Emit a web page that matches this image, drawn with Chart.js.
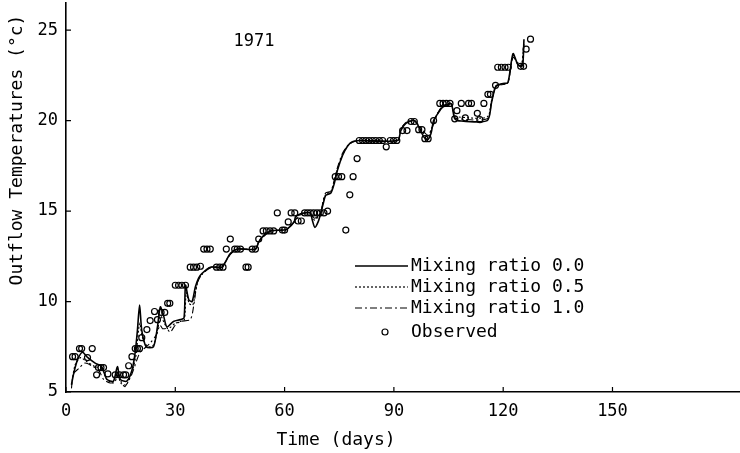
<!DOCTYPE html>
<html>
<head>
<meta charset="utf-8">
<script src="https://cdn.jsdelivr.net/npm/chart.js@4"></script>
<style>
  html, body { margin: 0; padding: 0; background: #fff; }
  #wrap { width: 740px; height: 453px; }
</style>
</head>
<body>
<div id="wrap"><canvas id="myChart" width="740" height="453"></canvas></div>
<script>
// tick labels
const xTicks = [0, 30, 60, 90, 120, 150];
const yTicks = [5, 10, 15, 20, 25];

// Mixing ratio 0.0 (solid)
const mix00Days = [1.5, 2.2, 3.2, 4.5, 6, 8, 9.8, 11.2, 13, 14.1, 14.9, 16.7, 18.1, 19, 19.6, 20.2, 20.8, 22, 24, 25.1, 25.9, 26.8, 27.7, 29.5, 31.4, 32.4, 32.8, 33.7, 34.6, 35.5, 36.4, 37.3, 39.6, 42.8, 43.8, 45.1, 47, 52, 52.9, 54.3, 56.2, 59.8, 60.7, 62.6, 63.0, 64.4, 67, 67.6, 68.3, 69.2, 69.9, 70.6, 71.3, 72.7, 73.6, 74.5, 75.9, 77.3, 78.6, 80.5, 91.0, 91.9, 93.3, 95.6, 97, 98.2, 99.3, 100.2, 100.9, 102, 103.4, 105.7, 106.6, 107.5, 115.6, 116.8, 118, 119.9, 121.3, 122.7, 124.0, 125.0, 125.4, 125.7];
const mix00Temps = [5.4, 6.1, 6.8, 7.2, 6.9, 6.6, 6.4, 5.7, 5.6, 6.4, 5.7, 5.6, 6.2, 7.2, 8.4, 9.8, 8.4, 7.5, 7.5, 8.6, 9.7, 9.2, 8.6, 8.9, 9.0, 9.1, 10.9, 10.1, 10.0, 10.8, 11.3, 11.55, 11.9, 11.9, 12.2, 12.65, 12.9, 12.9, 13.3, 13.66, 13.9, 13.95, 14.0, 14.4, 14.67, 14.85, 14.9, 14.5, 14.1, 14.4, 14.86, 15.4, 15.87, 16.0, 16.5, 17.25, 18.07, 18.6, 18.83, 18.9, 18.9, 19.45, 19.85, 20.0, 19.6, 19.1, 18.95, 19.3, 20.0, 20.37, 20.74, 20.92, 20.15, 20.0, 20.0, 21.0, 21.9, 22.05, 22.1, 23.7, 23.1, 23.0, 23.1, 24.5];

// Mixing ratio 0.5 (dotted)
const mix05Days = [1.5, 2.5, 4, 5.5, 8, 9.8, 11.2, 13, 14.1, 15, 16.5, 18.1, 19.2, 20.2, 21, 22.5, 24, 25.2, 26, 27, 28, 30, 31.4, 32.5, 33, 33.8, 34.8, 35.6, 36.4, 37.3, 39.6, 42.8, 43.8, 45.1, 47, 52, 52.9, 54.3, 56.2, 59.8, 60.7, 62.6, 64.4, 67, 68.2, 69.9, 70.6, 71.3, 72.7, 73.6, 74.5, 75.9, 77.3, 78.6, 80.5, 91.0, 91.9, 93.3, 95.6, 97, 99.3, 100.9, 102, 103.4, 105.7, 106.6, 107.5, 115.6, 116.8, 118, 119.9, 121.3, 122.7, 124.0, 125.0, 125.7];
const mix05Temps = [5.4, 6.5, 6.9, 6.7, 6.4, 6.3, 5.7, 5.5, 6.1, 5.5, 5.4, 6.1, 7.0, 8.8, 8.0, 7.5, 7.6, 8.5, 9.2, 8.8, 8.5, 8.8, 8.9, 9.0, 10.5, 9.9, 9.8, 10.6, 11.2, 11.5, 11.9, 11.9, 12.2, 12.65, 12.9, 12.9, 13.3, 13.66, 13.9, 13.95, 14.0, 14.4, 14.85, 14.9, 14.5, 14.9, 15.5, 15.9, 16.1, 16.6, 17.3, 18.1, 18.6, 18.83, 18.9, 18.9, 19.5, 19.9, 20.0, 19.6, 19.1, 19.9, 20.4, 20.8, 20.95, 20.3, 20.2, 20.2, 21.1, 21.9, 22.0, 22.1, 23.6, 23.1, 23.0, 24.3];

// Mixing ratio 1.0 (dash-dot)
const mix10Days = [1.5, 2, 3.5, 5.2, 7.5, 9, 10.3, 12.1, 13.5, 14.4, 15.3, 16.2, 18.1, 19.5, 20.4, 23.1, 24.9, 25.8, 26.5, 27.7, 28.6, 30, 31.4, 34.1, 35, 36, 37.3, 39.6, 42.8, 43.8, 45.1, 47, 52, 52.9, 54.3, 56.2, 59.8, 60.7, 62.6, 64.4, 67, 68.2, 69.9, 70.6, 71.3, 72.7, 73.6, 74.5, 75.9, 77.3, 78.6, 80.5, 91.0, 91.9, 93.3, 95.6, 97, 99.3, 100.9, 102, 103.4, 105.7, 106.6, 107.5, 115.6, 116.8, 118, 119.9, 121.3, 122.7, 124.0, 125.0, 125.7];
const mix10Temps = [5.2, 6.0, 6.3, 6.6, 6.4, 6.2, 5.7, 5.5, 5.6, 6.0, 5.5, 5.3, 6.0, 6.8, 7.2, 7.7, 8.2, 8.7, 8.5, 8.5, 8.3, 8.7, 8.9, 9.0, 9.7, 11.0, 11.5, 11.85, 11.9, 12.2, 12.6, 12.9, 12.9, 13.3, 13.6, 13.9, 13.95, 14.0, 14.4, 14.8, 14.9, 14.6, 14.9, 15.6, 16.0, 16.1, 16.7, 17.4, 18.2, 18.6, 18.8, 18.9, 18.9, 19.5, 19.9, 20.0, 19.7, 19.2, 19.8, 20.4, 20.8, 20.95, 20.2, 20.1, 20.1, 21.0, 21.9, 22.0, 22.1, 23.5, 23.2, 23.0, 24.2];

// Observed
const obsDays = [1.8, 2.5, 3.7, 4.3, 5.9, 7.2, 8.4, 8.9, 9.6, 10.3, 11.5, 13.5, 14.7, 15.8, 16.4, 17.2, 18.1, 19.0, 19.6, 20.2, 20.8, 22.2, 23.1, 24.3, 25.1, 26.1, 27.1, 27.9, 28.5,
  30.0, 30.9, 31.8, 32.8, 34.1, 35.0, 35.9, 36.9, 37.8, 38.7, 39.6, 41.3, 42.2, 43.1, 44.0, 45.1, 46.3, 47.0, 47.9, 49.4, 50.0, 51.1, 52.0, 52.9,
  54.1, 55.0, 56.0, 57.0, 58.0, 59.4, 60.0, 61.0, 61.8, 62.8, 63.7, 64.6, 65.5, 66.3, 67.1, 68.0, 68.9, 69.8, 70.8, 71.8,
  73.9, 74.8, 75.7, 76.8, 77.9, 78.8, 79.9, 80.5, 81.4, 82.3, 83.2, 84.1, 85.0, 86.0, 86.9, 87.9, 89.0, 89.9, 90.8,
  92.4, 93.6, 94.7, 95.6, 96.8, 97.7, 98.5, 99.4, 100.9, 102.6, 103.5, 104.4, 105.4, 106.7, 107.3, 108.5, 109.6, 110.5, 111.3,
  112.9, 113.6, 114.7, 115.8, 116.5, 117.9, 118.5, 119.5, 120.5, 121.4, 124.8, 125.6, 126.3, 127.5];
const obsTemps = [6.95, 6.95, 7.4, 7.4, 6.9, 7.4, 5.95, 6.35, 6.35, 6.35, 6.0, 5.95, 5.95, 5.95, 5.95, 6.45, 6.95, 7.4, 7.4, 7.4, 8.0, 8.45, 8.95, 9.45, 9.0, 9.4, 9.4, 9.9, 9.9,
  10.9, 10.9, 10.9, 10.9, 11.9, 11.9, 11.9, 11.95, 12.9, 12.9, 12.9, 11.9, 11.9, 11.9, 12.9, 13.45, 12.9, 12.9, 12.9, 11.9, 11.9, 12.9, 12.9, 13.45,
  13.9, 13.9, 13.9, 13.9, 14.9, 13.95, 13.95, 14.4, 14.9, 14.9, 14.45, 14.45, 14.9, 14.9, 14.9, 14.9, 14.9, 14.9, 14.9, 15.0,
  16.9, 16.9, 16.9, 13.95, 15.9, 16.9, 17.9, 18.9, 18.9, 18.9, 18.9, 18.9, 18.9, 18.9, 18.9, 18.55, 18.9, 18.9, 18.9,
  19.45, 19.45, 19.95, 19.95, 19.5, 19.5, 19.0, 19.0, 20.0, 20.95, 20.95, 20.95, 20.95, 20.1, 20.55, 20.95, 20.15, 20.95, 20.95,
  20.4, 20.05, 20.95, 21.45, 21.45, 21.95, 22.95, 22.95, 22.95, 22.95, 23.0, 23.0, 23.95, 24.5];

const FONT = "'DejaVu Sans Mono', monospace";

function pts(days, temps) {
  return days.map((d, i) => ({ x: d, y: temps[i] }));
}

// extra drawing: inner ticks, "1971", axis titles, legend
const extras = {
  id: 'extras',
  afterDraw(chart) {
    const ctx = chart.ctx;
    const xs = chart.scales.x, ys = chart.scales.y;
    ctx.save();
    ctx.strokeStyle = '#000';
    ctx.lineWidth = 1.2;
    ctx.beginPath();
    xTicks.forEach(v => {
      const px = xs.getPixelForValue(v);
      ctx.moveTo(px, ys.bottom); ctx.lineTo(px, ys.bottom - 5);
    });
    yTicks.forEach(v => {
      const py = ys.getPixelForValue(v);
      ctx.moveTo(xs.left, py); ctx.lineTo(xs.left + 5, py);
    });
    ctx.stroke();

    ctx.fillStyle = '#000';
    ctx.font = '17px ' + FONT;
    ctx.textAlign = 'center';
    ctx.textBaseline = 'middle';
    ctx.fillText('1971', 254, 42);

    ctx.font = '18px ' + FONT;
    ctx.fillText('Time (days)', 336, 440);

    ctx.save();
    ctx.translate(17, 150);
    ctx.rotate(-Math.PI / 2);
    ctx.fillText('Outflow Temperatures (\u00b0c)', 0, 0);
    ctx.restore();

    // legend
    const rows = [
      { label: 'Mixing ratio 0.0', y: 266, dash: [], w: 1.6 },
      { label: 'Mixing ratio 0.5', y: 287, dash: [2, 2], w: 1.2 },
      { label: 'Mixing ratio 1.0', y: 308, dash: [7, 3, 2, 3], w: 1.2 }
    ];
    ctx.textAlign = 'left';
    rows.forEach(r => {
      ctx.beginPath();
      ctx.setLineDash(r.dash);
      ctx.lineWidth = r.w;
      ctx.moveTo(355, r.y); ctx.lineTo(408, r.y);
      ctx.stroke();
      ctx.setLineDash([]);
      ctx.fillText(r.label, 411, r.y);
    });
    ctx.beginPath();
    ctx.lineWidth = 1.2;
    ctx.arc(385, 332, 3, 0, Math.PI * 2);
    ctx.stroke();
    ctx.fillText('Observed', 411, 332);
    ctx.restore();
  }
};

const lineDs = (label, days, temps, dash, w) => ({
  label: label,
  data: pts(days, temps),
  borderColor: '#000',
  borderWidth: w,
  borderDash: dash,
  pointRadius: 0,
  pointHoverRadius: 0,
  tension: 0.25,
  fill: false,
  showLine: true
});

new Chart(document.getElementById('myChart'), {
  type: 'scatter',
  data: {
    datasets: [
      lineDs('Mixing ratio 0.0', mix00Days, mix00Temps, [], 1.6),
      lineDs('Mixing ratio 0.5', mix05Days, mix05Temps, [2, 2], 1.1),
      lineDs('Mixing ratio 1.0', mix10Days, mix10Temps, [7, 3, 2, 3], 1.1),
      {
        label: 'Observed',
        data: pts(obsDays, obsTemps),
        showLine: false,
        pointRadius: 3,
        pointHoverRadius: 3,
        pointBorderWidth: 1.2,
        pointBorderColor: '#000',
        pointBackgroundColor: 'rgba(255,255,255,0)',
        clip: false
      }
    ]
  },
  options: {
    responsive: false,
    animation: false,
    layout: { autoPadding: false, padding: { top: 3, right: 0, left: 0, bottom: 0 } },
    plugins: { legend: { display: false }, tooltip: { enabled: false } },
    scales: {
      x: {
        type: 'linear',
        min: 0,
        max: 185,
        afterBuildTicks: s => { s.ticks = xTicks.map(v => ({ value: v })); },
        afterFit: s => { s.height = 61; s.paddingLeft = 0; s.paddingRight = 0; },
        grid: { display: true, drawOnChartArea: false, drawTicks: false },
        border: { display: true, color: '#000', width: 1.6 },
        ticks: { color: '#000', font: { family: FONT, size: 17 }, padding: 9, maxRotation: 0 }
      },
      y: {
        min: 5,
        max: 26.5,
        afterBuildTicks: s => { s.ticks = yTicks.map(v => ({ value: v })); },
        afterFit: s => { s.width = 66; s.paddingTop = 0; s.paddingBottom = 0; },
        grid: { display: true, drawOnChartArea: false, drawTicks: false },
        border: { display: true, color: '#000', width: 1.6 },
        ticks: { color: '#000', font: { family: FONT, size: 17 }, padding: 8 }
      }
    }
  },
  plugins: [extras]
});
</script>
</body>
</html>
